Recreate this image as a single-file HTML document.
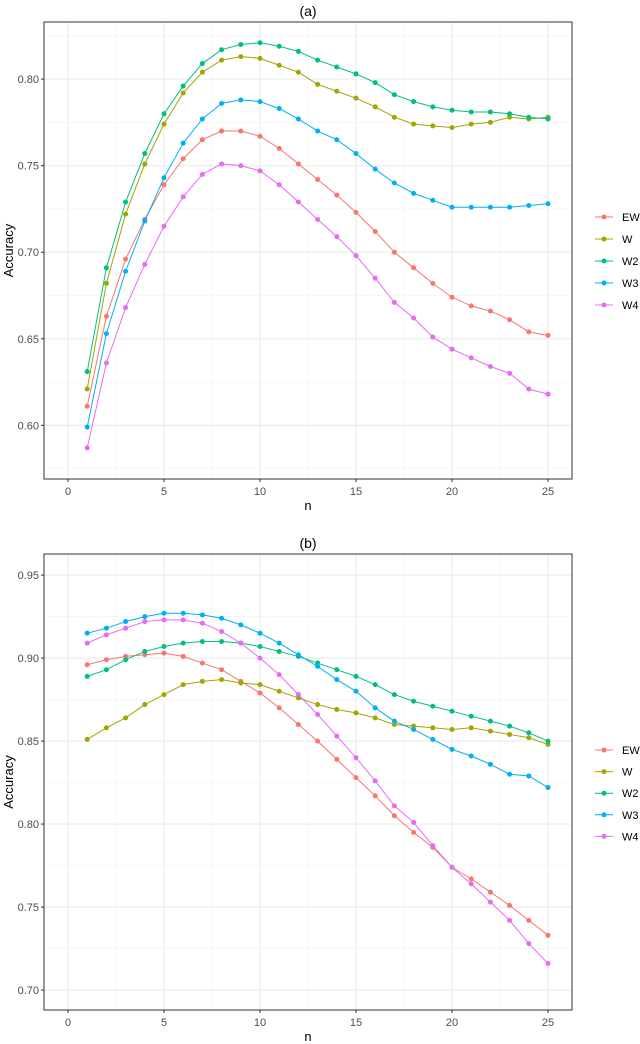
<!DOCTYPE html>
<html><head><meta charset="utf-8"><style>
body{margin:0;background:#fff;overflow:hidden;}
svg{display:block;font-family:"Liberation Sans",Arial,sans-serif;}
</style></head><body>
<svg id="chart" width="640" height="1044" viewBox="0 0 640 1044"></svg>
<script>
const nValues = [1,2,3,4,5,6,7,8,9,10,11,12,13,14,15,16,17,18,19,20,21,22,23,24,25];
const seriesNames = ["EW","W","W2","W3","W4"];
const seriesColors = ["#F8766D","#A3A500","#00BF7D","#00B0F6","#E76BF3"];
const aEW = [0.611,0.663,0.696,0.719,0.739,0.754,0.765,0.770,0.770,0.767,0.760,0.751,0.742,0.733,0.723,0.712,0.700,0.691,0.682,0.674,0.669,0.666,0.661,0.654,0.652];
const aW  = [0.621,0.682,0.722,0.751,0.774,0.792,0.804,0.811,0.813,0.812,0.808,0.804,0.797,0.793,0.789,0.784,0.778,0.774,0.773,0.772,0.774,0.775,0.778,0.777,0.778];
const aW2 = [0.631,0.691,0.729,0.757,0.780,0.796,0.809,0.817,0.820,0.821,0.819,0.816,0.811,0.807,0.803,0.798,0.791,0.787,0.784,0.782,0.781,0.781,0.780,0.778,0.777];
const aW3 = [0.599,0.653,0.689,0.718,0.743,0.763,0.777,0.786,0.788,0.787,0.783,0.777,0.770,0.765,0.757,0.748,0.740,0.734,0.730,0.726,0.726,0.726,0.726,0.727,0.728];
const aW4 = [0.587,0.636,0.668,0.693,0.715,0.732,0.745,0.751,0.750,0.747,0.739,0.729,0.719,0.709,0.698,0.685,0.671,0.662,0.651,0.644,0.639,0.634,0.630,0.621,0.618];
const bEW = [0.896,0.899,0.901,0.902,0.903,0.901,0.897,0.893,0.886,0.879,0.870,0.860,0.850,0.839,0.828,0.817,0.805,0.795,0.786,0.774,0.767,0.759,0.751,0.742,0.733];
const bW  = [0.851,0.858,0.864,0.872,0.878,0.884,0.886,0.887,0.885,0.884,0.880,0.876,0.872,0.869,0.867,0.864,0.860,0.859,0.858,0.857,0.858,0.856,0.854,0.852,0.848];
const bW2 = [0.889,0.893,0.899,0.904,0.907,0.909,0.910,0.910,0.909,0.907,0.904,0.901,0.897,0.893,0.889,0.884,0.878,0.874,0.871,0.868,0.865,0.862,0.859,0.855,0.850];
const bW3 = [0.915,0.918,0.922,0.925,0.927,0.927,0.926,0.924,0.920,0.915,0.909,0.902,0.895,0.887,0.880,0.870,0.862,0.857,0.851,0.845,0.841,0.836,0.830,0.829,0.822];
const bW4 = [0.909,0.914,0.918,0.922,0.923,0.923,0.921,0.916,0.909,0.900,0.890,0.878,0.866,0.853,0.840,0.826,0.811,0.801,0.787,0.774,0.764,0.753,0.742,0.728,0.716];
const xTicks = [0,5,10,15,20,25];
const aYTicks = [0.60,0.65,0.70,0.75,0.80];
const bYTicks = [0.70,0.75,0.80,0.85,0.90,0.95];

const NS="http://www.w3.org/2000/svg";
const svg=document.getElementById('chart');
function mk(tag,attrs,parent){const e=document.createElementNS(NS,tag);for(const k in attrs)e.setAttribute(k,attrs[k]);(parent||svg).appendChild(e);return e;}

function panel(id,cfg,series,yTicks){
  const g=mk('g',{});
  
  
  const L=44,R=572,T=cfg.top,B=cfg.bottom;
  const xs=v=>L+(v-(-1.25))/(27.5)*(R-L);
  const ys=v=>B-(v-cfg.ymin)/(cfg.ymax-cfg.ymin)*(B-T);
  for(let v=-2.5;v<=27.5;v+=5){if(v<-1.25||v>26.25)continue;mk('line',{x1:xs(v),x2:xs(v),y1:T,y2:B,stroke:'#f2f2f2','stroke-width':0.6},g);}
  for(let i=0;i<yTicks.length+1;i++){const v=yTicks[0]-0.025+i*0.05;if(v<cfg.ymin||v>cfg.ymax)continue;mk('line',{x1:L,x2:R,y1:ys(v),y2:ys(v),stroke:'#f2f2f2','stroke-width':0.6},g);}
  xTicks.forEach(v=>{mk('line',{x1:xs(v),x2:xs(v),y1:T,y2:B,stroke:'#ebebeb','stroke-width':1.1},g);
    const t=mk('text',{x:xs(v),y:B+16,'text-anchor':'middle','font-size':11,fill:'#4d4d4d'},g);t.textContent=v;
    
    
    mk('line',{x1:xs(v),x2:xs(v),y1:B,y2:B+3,stroke:'#333'},g);});
  yTicks.forEach(v=>{mk('line',{x1:L,x2:R,y1:ys(v),y2:ys(v),stroke:'#ebebeb','stroke-width':1.1},g);
    const t=mk('text',{x:L-5,y:ys(v)+4,'text-anchor':'end','font-size':11,fill:'#4d4d4d'},g);t.textContent=v.toFixed(2);
    
    
    mk('line',{x1:L-3,x2:L,y1:ys(v),y2:ys(v),stroke:'#333'},g);});
  series.forEach((s,i)=>{
    const pts=nValues.map((n,j)=>xs(n)+','+ys(s[j])).join(' ');
    const pl=mk('polyline',{points:pts,fill:'none',stroke:seriesColors[i],'stroke-width':1},g);
    
    
    nValues.forEach((n,j)=>{const c=mk('circle',{cx:xs(n),cy:ys(s[j]),r:2.5,fill:seriesColors[i]},g);
      
      });
  });
  const fr=mk('rect',{x:L,y:T,width:R-L,height:B-T,fill:'none',stroke:'#333','stroke-width':1},g);
  
  
  const tt=mk('text',{x:308,y:T-6,'text-anchor':'middle','font-size':14,fill:'#000'},g);tt.textContent='('+id+')';
  
  
  const xl=mk('text',{x:308,y:B+31,'text-anchor':'middle','font-size':13,fill:'#000'},g);xl.textContent='n';
  
  
  const cy=(T+B)/2;
  const yl=mk('text',{x:13,y:cy,'text-anchor':'middle','font-size':13,fill:'#000',transform:'rotate(-90 13 '+cy+')'},g);yl.textContent='Accuracy';
  
  
  seriesNames.forEach((nm,i)=>{const y=cfg.legTop+i*cfg.legGap;
    const lg=mk('g',{},g);
    
    
    mk('line',{x1:595,x2:613,y1:y,y2:y,stroke:seriesColors[i],'stroke-width':1},lg);
    mk('circle',{cx:604,cy:y,r:2.5,fill:seriesColors[i]},lg);
    const t=mk('text',{x:622,y:y+4,'font-size':11,fill:'#000'},lg);t.textContent=nm;});
}
panel('a',{top:22,bottom:479,ymin:0.569,ymax:0.833,legTop:217,legGap:22},[aEW,aW,aW2,aW3,aW4],aYTicks);
panel('b',{top:554,bottom:1010,ymin:0.688,ymax:0.9627,legTop:750,legGap:21.6},[bEW,bW,bW2,bW3,bW4],bYTicks);
</script>
</body></html>
